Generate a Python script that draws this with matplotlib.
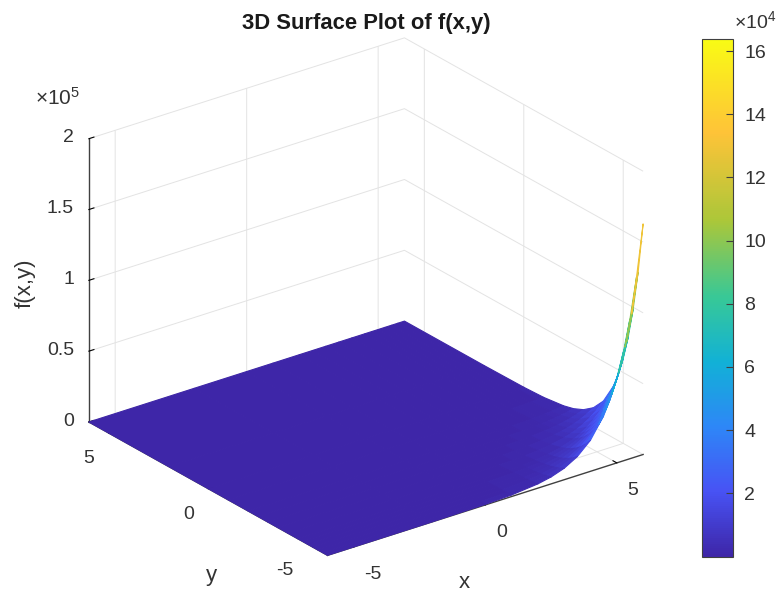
import numpy as np
import matplotlib
matplotlib.use("Agg")
import matplotlib.pyplot as plt
from matplotlib.colors import LinearSegmentedColormap, Normalize
from matplotlib.cm import ScalarMappable
from matplotlib.transforms import ScaledTranslation

plt.rcParams['font.family'] = ['Liberation Sans', 'DejaVu Sans']
plt.rcParams['mathtext.default'] = 'regular'

# values, denser close to the steep corner
x_grid = [-6, -2, 0, 1, 2, 2.5, 3, 3.5, 4, 4.5, 4.75, 5, 5.25, 5.5, 5.75, 6]
y_grid = [-6, -5.75, -5.5, -5.25, -5, -4.75, -4.5, -4, -3.5, -3, -2.5, -2, -1, 0, 2, 6]
f_values = [
    [1, 55, 400, 1100, 3000, 4900, 8100, 13400, 22000, 36300, 46600, 59900, 76900, 98700, 126800, 162800],
    [1, 43, 310, 850, 2300, 3800, 6300, 10400, 17200, 28300, 36300, 46600, 59900, 76900, 98700, 126800],
    [1, 33, 250, 670, 1800, 3000, 4900, 8100, 13400, 22000, 28300, 36300, 46600, 59900, 76900, 98700],
    [0, 26, 190, 520, 1400, 2300, 3800, 6300, 10400, 17200, 22000, 28300, 36300, 46600, 59900, 76900],
    [0, 20, 150, 400, 1100, 1800, 3000, 4900, 8100, 13400, 17200, 22000, 28300, 36300, 46600, 59900],
    [0, 16, 120, 310, 850, 1400, 2300, 3800, 6300, 10400, 13400, 17200, 22000, 28300, 36300, 46600],
    [0, 12, 90, 250, 670, 1100, 1800, 3000, 4900, 8100, 10400, 13400, 17200, 22000, 28300, 36300],
    [0, 7, 55, 150, 400, 670, 1100, 1800, 3000, 4900, 6300, 8100, 10400, 13400, 17200, 22000],
    [0, 4, 33, 90, 250, 400, 670, 1100, 1800, 3000, 3800, 4900, 6300, 8100, 10400, 13400],
    [0, 3, 20, 55, 150, 250, 400, 670, 1100, 1800, 2300, 3000, 3800, 4900, 6300, 8100],
    [0, 2, 12, 33, 90, 150, 250, 400, 670, 1100, 1400, 1800, 2300, 3000, 3800, 4900],
    [0, 1, 7, 20, 55, 90, 150, 250, 400, 670, 850, 1100, 1400, 1800, 2300, 3000],
    [0, 0, 3, 7, 20, 33, 55, 90, 150, 250, 310, 400, 520, 670, 850, 1100],
    [0, 0, 1, 3, 7, 12, 20, 33, 55, 90, 120, 150, 190, 250, 310, 400],
    [0, 0, 0, 0, 1, 2, 3, 4, 7, 12, 16, 20, 26, 33, 43, 55],
    [0, 0, 0, 0, 0, 0, 0, 0, 0, 0, 0, 0, 0, 1, 1, 1],
]
xy_ticks = [-5, 0, 5]
xy_ticklabels = ['-5', '0', '5']
z_ticks = [0, 50000, 100000, 150000, 200000]
z_ticklabels = ['0', '0.5', '1', '1.5', '2']
cbar_ticks = [20000, 40000, 60000, 80000, 100000, 120000, 140000, 160000]
cbar_ticklabels = ['2', '4', '6', '8', '10', '12', '14', '16']

parula = LinearSegmentedColormap.from_list('parula', [
    (0.0, (0.2422, 0.1504, 0.6603)),
    (0.125, (0.2810, 0.3228, 0.9579)),
    (0.25, (0.1786, 0.5289, 0.9682)),
    (0.375, (0.0689, 0.6948, 0.8394)),
    (0.5, (0.2161, 0.7843, 0.5923)),
    (0.65, (0.6720, 0.7793, 0.2227)),
    (0.82, (0.9970, 0.7659, 0.2199)),
    (1.0, (0.9769, 0.9839, 0.0805)),
], N=256)

W, H = 776, 592
TXT = '#333333'
fig = plt.figure(figsize=(W / 100, H / 100), dpi=100)

ax = fig.add_axes([62 / W, -8.6 / H, 592 / W, 592 / H], projection='3d', proj_type='ortho')
ax.view_init(elev=25, azim=-127.1)
ax.set_box_aspect((1, 1, 0.79), zoom=1.051)
ax.patch.set_alpha(0)

X, Y = np.meshgrid(x_grid, y_grid)
Z = np.array(f_values, dtype=float)
norm = Normalize(vmin=0, vmax=164000)
surf = ax.plot_surface(X, Y, Z, cmap=parula, norm=norm, rstride=1, cstride=1,
                       linewidth=0.8, antialiased=True, shade=False)
surf.set_edgecolor('face')
surf.set_clip_on(False)

ax.set_xlim(-6, 6)
ax.set_ylim(-6, 6)
ax.set_zlim(0, 200000)
ax.set_xticks(xy_ticks)
ax.set_yticks(xy_ticks)
ax.set_zticks(z_ticks)
ax.set_xticklabels(xy_ticklabels, ha='left')
ax.set_yticklabels(xy_ticklabels, ha='right')
ax.set_zticklabels(z_ticklabels, ha='right', va='center')

for axis in (ax.xaxis, ax.yaxis, ax.zaxis):
    axis.set_pane_color((1, 1, 1, 0))
    axis.pane.set_edgecolor((1, 1, 1, 0))
    axis.line.set_color('#404040')
    axis.line.set_linewidth(1.0)
    axis._axinfo['grid']['color'] = '#e3e3e3'
    axis._axinfo['grid']['linewidth'] = 0.7
    axis._axinfo['tick']['inward_factor'] = 0.0
    axis._axinfo['tick']['outward_factor'] = 0.2
    axis._axinfo['tick']['color'] = '#404040'
    axis.set_tick_params(labelsize=14, labelcolor=TXT, pad=2)
ax.zaxis.set_tick_params(pad=-2)


def nudge_labels(axis, dx, dy):
    # dx, dy in pixels, dy going up
    shift = ScaledTranslation(dx / 100, dy / 100, fig.dpi_scale_trans)
    for tick in axis.get_major_ticks():
        tick.label1.set_transform(tick.label1.get_transform() + shift)


nudge_labels(ax.xaxis, 6, 0)
nudge_labels(ax.yaxis, -2, 2)
nudge_labels(ax.zaxis, 0, 9)

fig.text(464 / W, 1 - 582 / H, 'x', fontsize=16, color=TXT, ha='center', va='center')
fig.text(211 / W, 1 - 575 / H, 'y', fontsize=16, color=TXT, ha='center', va='center')
fig.text(25 / W, 1 - 283 / H, 'f(x,y)', fontsize=16, color=TXT, rotation=90,
         ha='center', va='center')

fig.text(366 / W, 1 - 23 / H, '3D Surface Plot of f(x,y)', fontsize=15.8,
         fontweight='bold', color='#1a1a1a', ha='center', va='center')
fig.text(35 / W, 1 - 98 / H, r'$\times$10$^{5}$', fontsize=15, color=TXT,
         ha='left', va='center')

cax = fig.add_axes([702 / W, 1 - 556.5 / H, 31 / W, 518 / H])
cbar = fig.colorbar(ScalarMappable(norm=norm, cmap=parula), cax=cax)
cbar.set_ticks(cbar_ticks)
cbar.set_ticklabels(cbar_ticklabels)
cbar.ax.tick_params(direction='in', length=5, width=0.8, color='#404040',
                    labelsize=14, labelcolor=TXT, pad=8)
cbar.outline.set_edgecolor('#404040')
cbar.outline.set_linewidth(0.8)
fig.text(734 / W, 1 - 21 / H, r'$\times$10$^{4}$', fontsize=14, color=TXT,
         ha='left', va='center')

fig.savefig('out.png', dpi=100)
